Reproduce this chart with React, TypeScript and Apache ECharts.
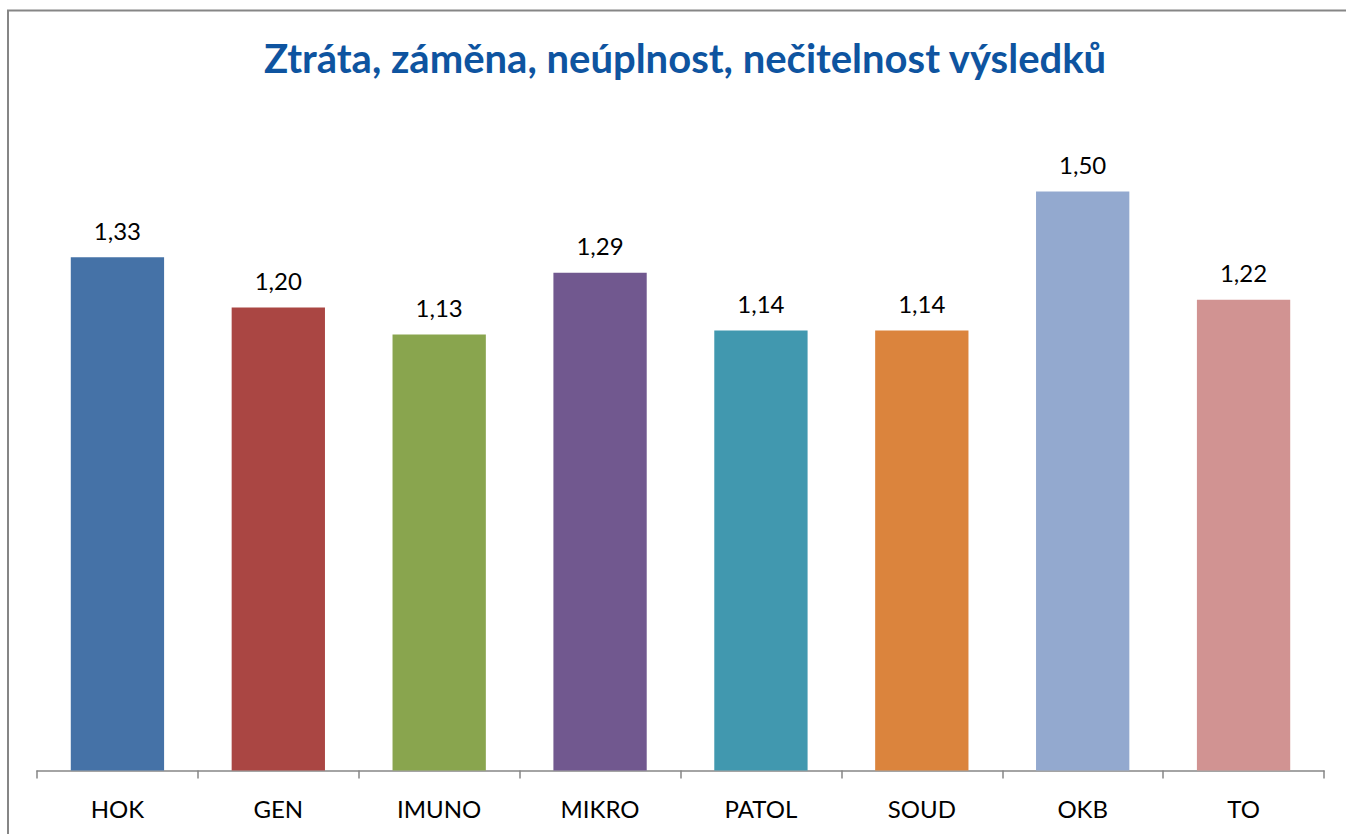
import React, { useEffect, useRef } from "react";
import * as echarts from "echarts";

const categories = ["HOK", "GEN", "IMUNO", "MIKRO", "PATOL", "SOUD", "OKB", "TO"];
const values = [1.33, 1.2, 1.13, 1.29, 1.14, 1.14, 1.5, 1.22];
const colors = ["#4572A7", "#AA4643", "#89A54E", "#71588F", "#4198AF", "#DB843D", "#93A9CF", "#D19392"];
const title = "Ztráta, záměna, neúplnost, nečitelnost výsledků";

export default function App() {
  const ref = useRef<HTMLDivElement>(null);
  useEffect(() => {
    const chart = echarts.init(ref.current!, null, { renderer: "svg" });
    chart.setOption({
      animation: false,
      backgroundColor: "#ffffff",
      title: {
        text: title,
        left: 259,
        top: 33,
        textStyle: { fontFamily: "Lato", fontWeight: "bold", fontSize: 40, color: "#0E54A0" },
      },
      graphic: [
        {
          type: "rect",
          shape: { x: 8, y: 10.5, width: 1400, height: 900 },
          style: { fill: "none", stroke: "#868686", lineWidth: 2 },
          z: 100,
        },
      ],
      grid: { left: 37, right: 22, top: 153, bottom: 63.5, containLabel: false },
      xAxis: {
        type: "category",
        data: categories,
        axisLine: { show: true, lineStyle: { color: "#868686", width: 1.5 } },
        axisTick: { show: true, alignWithLabel: false, interval: 0, length: 8, lineStyle: { color: "#868686", width: 1.5 } },
        axisLabel: { fontFamily: "Lato", fontSize: 24, color: "#000000", margin: 26 },
      },
      yAxis: {
        type: "value",
        min: 0,
        max: 1.6,
        show: false,
        splitLine: { show: false },
      },
      series: [
        {
          type: "bar",
          barWidth: "58%",
          data: values.map((v, i) => ({ value: v, itemStyle: { color: colors[i] } })),
          label: {
            show: true,
            position: "top",
            distance: 15,
            fontFamily: "Lato",
            fontSize: 24,
            color: "#000000",
            formatter: (p: any) => p.value.toFixed(2).replace(".", ","),
          },
        },
      ],
    });
    return () => chart.dispose();
  }, []);
  return <div ref={ref} style={{ position: "absolute", left: 0, top: 0, width: 1346, height: 834 }} />;
}
